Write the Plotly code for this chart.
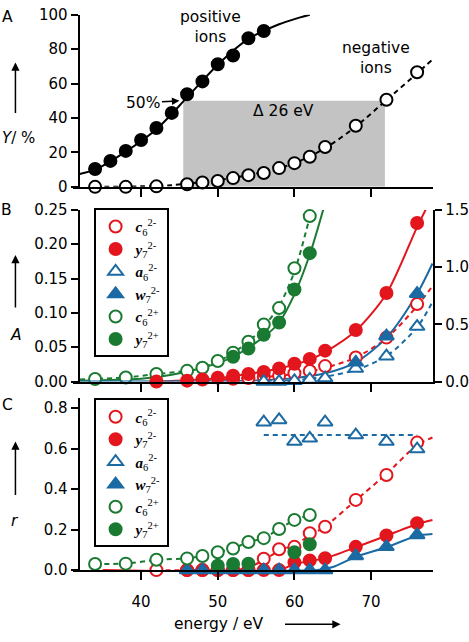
import plotly.graph_objects as go

W, H = 469, 642
FONT = "DejaVu Sans"
RED = "#e3161d"
BLUE = "#1b6aa3"
GREEN = "#1a7a32"
GRAY = "#c3c3c3"

# ---------------- Panel A : yield Y / % ----------------
energy_pos = [34, 36, 38, 40, 42, 44, 46, 48, 50, 52, 54, 56]
yield_pos = [10.4, 15.1, 20.9, 27.2, 34.2, 43.0, 53.8, 61.3, 71.3, 76.4, 86.4, 90.6]
energy_neg = [34, 38, 42, 46, 48, 50, 52, 54, 56, 58, 60, 62, 64, 68, 72, 76]
yield_neg = [0, 0, 0.3, 1.5, 2.5, 3.4, 5.1, 6.8, 8.1, 10.9, 13.8, 17.5, 23.2, 35.5, 50.6, 66.6]
fit_pos_e = [32, 34, 38, 42, 46, 50, 54, 58, 60, 62]
fit_pos_y = [7.5, 10, 20.5, 33.5, 52, 71, 86, 94.5, 97.5, 100]
fit_neg_e = [34, 40, 44, 48, 52, 56, 60, 64, 68, 72, 76, 78]
fit_neg_y = [0, 0.3, 1, 2.8, 5.2, 8.7, 13.7, 22.5, 35, 50.5, 66, 74]
band_e = [45.5, 71.8]
band_y = [0, 50]

# ---------------- Panel B : abundance A ----------------
# green series on left axis (0-0.25)
B_c6p_e = [34, 38, 42, 46, 48, 50, 52, 54, 56, 58, 60, 62]
B_c6p_v = [0.0038, 0.006, 0.011, 0.0156, 0.020, 0.030, 0.042, 0.058, 0.083, 0.107, 0.165, 0.241]
B_y7p_e = [52, 54, 56, 58, 60, 62]
B_y7p_v = [0.036, 0.048, 0.068, 0.086, 0.134, 0.187]
B_fit_c6p_e = [32, 38, 42, 46, 50, 54, 56, 58, 60, 62, 62.4]
B_fit_c6p_v = [0.003, 0.006, 0.011, 0.016, 0.029, 0.058, 0.08, 0.11, 0.16, 0.24, 0.26]
B_fit_y7p_e = [32, 40, 44, 48, 52, 56, 58, 60, 62, 64]
B_fit_y7p_v = [0.001, 0.004, 0.010, 0.020, 0.036, 0.065, 0.086, 0.127, 0.185, 0.26]
# red / blue series on right axis (0-1.5)
B_c6m_e = [52, 54, 56, 58, 60, 62, 64, 68, 72, 76]
B_c6m_v = [0.024, 0.03, 0.04, 0.051, 0.072, 0.093, 0.135, 0.21, 0.384, 0.678]
B_y7m_e = [42, 46, 48, 50, 52, 54, 56, 58, 60, 62, 64, 68, 72, 76]
B_y7m_v = [0.0, 0.008, 0.018, 0.034, 0.051, 0.066, 0.084, 0.114, 0.156, 0.198, 0.27, 0.45, 0.774, 1.386]
B_a6m_e = [56, 58, 60, 62, 64, 68, 72, 76]
B_a6m_v = [0, 0, 0.006, 0.018, 0.03, 0.114, 0.222, 0.48]
B_w7m_e = [68, 72, 76]
B_w7m_v = [0.168, 0.396, 0.768]
B_fit_y7m_e = [42, 46, 50, 54, 58, 62, 64, 68, 72, 76, 78]
B_fit_y7m_v = [0, 0.012, 0.03, 0.066, 0.114, 0.192, 0.258, 0.444, 0.768, 1.35, 1.62]
B_fit_c6m_e = [46, 52, 56, 60, 64, 68, 72, 76, 78]
B_fit_c6m_v = [0.006, 0.024, 0.04, 0.066, 0.12, 0.21, 0.378, 0.66, 0.834]
B_fit_w7m_e = [32, 50, 56, 60, 64, 68, 72, 76, 78]
B_fit_w7m_v = [0, 0.003, 0.012, 0.03, 0.072, 0.168, 0.384, 0.768, 1.032]
B_fit_a6m_e = [54, 60, 64, 68, 72, 76, 78]
B_fit_a6m_v = [0, 0.012, 0.042, 0.102, 0.222, 0.474, 0.696]

# ---------------- Panel C : ratio r ----------------
C_c6m_e = [42, 46, 48, 50, 52, 54, 56, 58, 60, 62, 64, 68, 72, 76]
C_c6m_v = [0, 0, 0, 0, 0, 0, 0.056, 0.103, 0.115, 0.182, 0.214, 0.347, 0.470, 0.630]
C_y7m_e = [46, 48, 50, 52, 54, 56, 58, 60, 62, 64, 68, 72, 76]
C_y7m_v = [0, 0, 0, 0, 0, 0, 0, 0.038, 0.048, 0.059, 0.115, 0.171, 0.232]
C_a6m_e = [56, 58, 60, 62, 64, 68, 72, 76]
C_a6m_v = [0.731, 0.742, 0.635, 0.651, 0.731, 0.667, 0.635, 0.598]
C_w7m_e = [46, 48, 50, 52, 54, 56, 58, 60, 62, 64, 68, 72, 76]
C_w7m_v = [0, 0, 0, 0, 0, 0, 0, 0, 0, 0, 0.070, 0.115, 0.174]
C_c6p_e = [34, 38, 42, 46, 48, 50, 52, 54, 56, 58, 60, 62]
C_c6p_v = [0.030, 0.032, 0.051, 0.058, 0.070, 0.088, 0.107, 0.139, 0.158, 0.203, 0.248, 0.272]
C_y7p_e = [50, 52, 54, 60, 62]
C_y7p_v = [0.022, 0.03, 0.032, 0.088, 0.128]
C_fit_c6m_e = [42, 52, 54, 56, 58, 60, 62, 64, 68, 72, 76, 78]
C_fit_c6m_v = [0, 0, 0.012, 0.05, 0.095, 0.125, 0.17, 0.215, 0.345, 0.475, 0.62, 0.655]
C_fit_y7m_e = [35, 58, 60, 62, 64, 68, 72, 76, 78]
C_fit_y7m_v = [0, 0, 0.03, 0.045, 0.058, 0.113, 0.17, 0.228, 0.248]
C_fit_w7m_e = [46, 63, 65, 68, 72, 76, 78]
C_fit_w7m_v = [0, 0, 0.015, 0.066, 0.113, 0.17, 0.178]
C_fit_a6m_e = [56, 76]
C_fit_a6m_v = [0.667, 0.667]

X_RANGE = [31.08, 78.09]
XDOM = [73 / W, 435 / W]
YPOS = 79 / W


def ydom(top, bottom):
    return [1 - bottom / H, 1 - top / H]


fig = go.Figure()
DASH = "5px,4px"


def line(x, y, color, dash, xa, ya, smooth=0.8):
    fig.add_trace(go.Scatter(x=x, y=y, mode="lines", xaxis=xa, yaxis=ya,
                             line=dict(color=color, width=2, dash=dash, shape="spline", smoothing=smooth),
                             showlegend=False, hoverinfo="skip"))


def pts(x, y, color, symbol, filled, xa, ya, name=None, legend=None, size=12):
    fig.add_trace(go.Scatter(
        x=x, y=y, mode="markers", xaxis=xa, yaxis=ya, cliponaxis=False,
        marker=dict(symbol=symbol, size=size, color=color if filled else "white",
                    line=dict(color=color, width=2)),
        name=name if name else "", showlegend=name is not None,
        legend=legend if legend else "legend"))


def lab(letter, sub, sup):
    return f"<b><i>{letter}</i></b><sub>{sub}</sub><sup>{sup}</sup>"


# Panel A
line(fit_pos_e, fit_pos_y, "black", "solid", "x", "y")
line(fit_neg_e, fit_neg_y, "black", DASH, "x", "y")
pts(energy_pos, yield_pos, "black", "circle", True, "x", "y")
pts(energy_neg, yield_neg, "black", "circle", False, "x", "y")

# Panel B lines
line(B_fit_c6p_e, B_fit_c6p_v, GREEN, DASH, "x2", "y2")
line(B_fit_y7p_e, B_fit_y7p_v, GREEN, "solid", "x2", "y2")
line(B_fit_y7m_e, B_fit_y7m_v, RED, "solid", "x2", "y4")
line(B_fit_c6m_e, B_fit_c6m_v, RED, DASH, "x2", "y4")
line(B_fit_w7m_e, B_fit_w7m_v, BLUE, "solid", "x2", "y4")
line(B_fit_a6m_e, B_fit_a6m_v, BLUE, DASH, "x2", "y4")
# Panel B markers (legend order)
pts(B_c6m_e, B_c6m_v, RED, "circle", False, "x2", "y4", lab("c", "6", "2-"), "legend")
pts(B_y7m_e, B_y7m_v, RED, "circle", True, "x2", "y4", lab("y", "7", "2-"), "legend")
pts(B_a6m_e, B_a6m_v, BLUE, "triangle-up", False, "x2", "y4", lab("a", "6", "2-"), "legend", 13)
pts(B_w7m_e, B_w7m_v, BLUE, "triangle-up", True, "x2", "y4", lab("w", "7", "2-"), "legend", 13)
pts(B_c6p_e, B_c6p_v, GREEN, "circle", False, "x2", "y2", lab("c", "6", "2+"), "legend")
pts(B_y7p_e, B_y7p_v, GREEN, "circle", True, "x2", "y2", lab("y", "7", "2+"), "legend")

# Panel C lines
line(C_c6p_e, C_c6p_v, GREEN, DASH, "x3", "y3", 0.5)
line(C_fit_c6m_e, C_fit_c6m_v, RED, DASH, "x3", "y3", 0.5)
line(C_fit_y7m_e, C_fit_y7m_v, RED, "solid", "x3", "y3", 0.6)
line(C_fit_w7m_e, C_fit_w7m_v, BLUE, "solid", "x3", "y3", 0.6)
line(C_fit_a6m_e, C_fit_a6m_v, BLUE, DASH, "x3", "y3")
# Panel C markers
pts(C_c6m_e, C_c6m_v, RED, "circle", False, "x3", "y3", lab("c", "6", "2-"), "legend2")
pts(C_y7m_e, C_y7m_v, RED, "circle", True, "x3", "y3", lab("y", "7", "2-"), "legend2")
pts(C_a6m_e, C_a6m_v, BLUE, "triangle-up", False, "x3", "y3", lab("a", "6", "2-"), "legend2", 13)
pts(C_w7m_e, C_w7m_v, BLUE, "triangle-up", True, "x3", "y3", lab("w", "7", "2-"), "legend2", 13)
pts(C_c6p_e, C_c6p_v, GREEN, "circle", False, "x3", "y3", lab("c", "6", "2+"), "legend2")
pts(C_y7p_e, C_y7p_v, GREEN, "circle", True, "x3", "y3", lab("y", "7", "2+"), "legend2")

TICKFONT = dict(family=FONT, size=15, color="black")
axis_common = dict(showline=True, linecolor="black", linewidth=2, ticks="outside", ticklen=7,
                   tickwidth=2, tickcolor="black", showgrid=False, zeroline=False,
                   tickfont=TICKFONT)

xcommon = dict(axis_common, range=X_RANGE, domain=XDOM, tickvals=[40, 50, 60, 70], ticklen=8)

legend_common = dict(xanchor="left", yanchor="top", bgcolor="white", bordercolor="black", borderwidth=2,
                     font=dict(family="Liberation Serif", size=15, color="black"),
                     tracegroupgap=0, itemwidth=30, xref="paper", yref="paper")

fig.update_layout(
    width=W, height=H, margin=dict(l=0, r=0, t=0, b=0),
    plot_bgcolor="white", paper_bgcolor="white",
    font=dict(family=FONT, size=15, color="black"),
    hovermode=False,
    xaxis=dict(xcommon, anchor="y", showticklabels=False),
    yaxis=dict(axis_common, domain=ydom(6, 183), range=[0, 100], tickvals=[0, 20, 40, 60, 80, 100],
               anchor="free", position=YPOS),
    xaxis2=dict(xcommon, anchor="y2", showticklabels=False),
    yaxis2=dict(axis_common, domain=ydom(206.7, 383.3), range=[0, 0.25],
                tickvals=[0, 0.05, 0.10, 0.15, 0.20, 0.25], tickformat=".2f",
                anchor="free", position=YPOS),
    yaxis4=dict(axis_common, range=[0, 1.5], tickvals=[0, 0.5, 1.0, 1.5], tickformat=".1f",
                overlaying="y2", side="right", anchor="x2", ticklabelstandoff=0),
    xaxis3=dict(xcommon, anchor="y3", ticklabelstandoff=9),
    yaxis3=dict(axis_common, domain=ydom(400.3, 577.3), range=[0, 0.85],
                tickvals=[0, 0.2, 0.4, 0.6, 0.8], tickformat=".1f",
                anchor="free", position=YPOS),
    legend=dict(legend_common, x=94 / W, y=1 - 205 / H),
    legend2=dict(legend_common, x=94 / W, y=1 - 400.7 / H),
)

fig.add_shape(type="rect", xref="x", yref="y", x0=band_e[0], x1=band_e[1], y0=band_y[0], y1=band_y[1],
              fillcolor=GRAY, line=dict(width=0), layer="below")

ann_font = dict(family=FONT, size=15.5, color="black")


def pa(x, y, text, **kw):
    d = dict(x=x / W, y=1 - y / H, xref="paper", yref="paper", text=text, showarrow=False,
             font=ann_font, xanchor="center", yanchor="middle")
    d.update(kw)
    return d


annotations = [
    dict(x=49.1, y=93, xref="x", yref="y", text="positive<br>ions", showarrow=False, font=ann_font),
    dict(x=70.7, y=75, xref="x", yref="y", text="negative<br>ions", showarrow=False, font=ann_font),
    dict(x=58.6, y=44, xref="x", yref="y", text="Δ 26 eV", showarrow=False, font=ann_font),
    dict(x=45, y=50, xref="x", yref="y", text="50%", showarrow=True, ax=-36, ay=2,
         arrowhead=2, arrowsize=1, arrowwidth=1.5, arrowcolor="black", font=ann_font),
    pa(8, 8, "A"), pa(7, 207, "B"), pa(8, 407, "C"),
    pa(0, 133, "<i>Y</i>/ %", xanchor="left", font=dict(family=FONT, size=15, color="black")),
    pa(16, 335, "<i>A</i>"), pa(15, 527, "<i>r</i>"),
    pa(220, 633, "energy / eV"),
]
for (hx, hy, ax, ay) in [(15.5, 55, 0, 52), (15.5, 253, 0, 54), (15.5, 445, 0, 55), (342, 633, -57, 0)]:
    annotations.append(dict(x=hx / W, y=1 - hy / H, xref="paper", yref="paper", text="", showarrow=True,
                            ax=ax, ay=ay, arrowhead=2, arrowsize=1.1, arrowwidth=1.5, arrowcolor="black"))
fig.update_layout(annotations=annotations)

fig.write_html("out.html", config={"displayModeBar": False},
               post_script="document.body.style.margin='0px';document.body.style.overflow='hidden';")
